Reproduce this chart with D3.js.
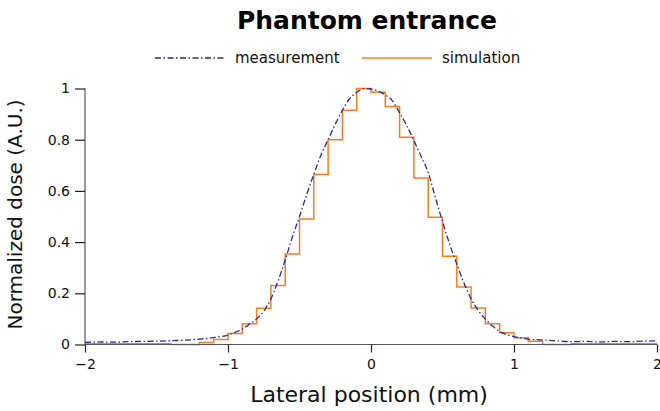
<!DOCTYPE html>
<html>
<head>
<meta charset="utf-8">
<script src="https://cdn.jsdelivr.net/npm/d3@7"></script>
<style>
  body { margin: 0; background: #fff; }
  svg { display: block; font-family: "DejaVu Sans", sans-serif; }
</style>
</head>
<body>
<svg id="chart" width="660" height="411"></svg>
<script>
// Simulated dose: 0.1 mm bins, left edges from -2.0 to 1.9
const simEdges = [-2.0, -1.9, -1.8, -1.7, -1.6, -1.5, -1.4, -1.3, -1.2, -1.1,
                  -1.0, -0.9, -0.8, -0.7, -0.6, -0.5, -0.4, -0.3, -0.2, -0.1,
                   0.0,  0.1,  0.2,  0.3,  0.4,  0.5,  0.6,  0.7,  0.8,  0.9,
                   1.0,  1.1,  1.2,  1.3,  1.4,  1.5,  1.6,  1.7,  1.8,  1.9];
const simDose = [0.003, 0.003, 0.003, 0.003, 0.003, 0.003, 0.0, 0.0, 0.008, 0.02,
                 0.043, 0.081, 0.142, 0.23, 0.354, 0.49, 0.664, 0.80, 0.915, 1.0,
                 0.985, 0.93, 0.81, 0.65, 0.497, 0.345, 0.225, 0.143, 0.081, 0.046,
                 0.026, 0.013, 0.0, 0.0, 0.003, 0.003, 0.003, 0.003, 0.003, 0.003];

// Measured lateral profile
const measPos = [-2.0, -1.9, -1.8, -1.7, -1.6, -1.5, -1.4, -1.3, -1.2, -1.1,
                 -1.05, -1.0, -0.95, -0.9, -0.85, -0.8, -0.75, -0.7, -0.65, -0.6,
                 -0.55, -0.5, -0.45, -0.4, -0.35, -0.3, -0.25, -0.2, -0.15, -0.1,
                 -0.05, 0.0, 0.05, 0.1, 0.15, 0.2, 0.25, 0.3, 0.35, 0.4,
                  0.45, 0.5, 0.55, 0.6, 0.65, 0.7, 0.75, 0.8, 0.85, 0.9,
                  0.95, 1.0, 1.05, 1.1, 1.2, 1.3, 1.4, 1.5, 1.6, 1.7,
                  1.8, 1.9, 2.0];
const measDose = [0.008, 0.010, 0.009, 0.011, 0.012, 0.013, 0.015, 0.017, 0.021, 0.027,
                  0.031, 0.037, 0.047, 0.060, 0.079, 0.100, 0.130, 0.178, 0.248, 0.330,
                  0.420, 0.500, 0.585, 0.665, 0.740, 0.800, 0.860, 0.915, 0.960, 0.985,
                  1.000, 0.998, 0.990, 0.975, 0.952, 0.905, 0.855, 0.797, 0.735, 0.672,
                  0.575, 0.480, 0.392, 0.314, 0.240, 0.178, 0.133, 0.099, 0.072, 0.051,
                  0.038, 0.031, 0.025, 0.021, 0.018, 0.014, 0.011, 0.012, 0.010, 0.012,
                  0.011, 0.013, 0.014];

const xTicks = [-2, -1, 0, 1, 2];
const yTicks = [0, 0.2, 0.4, 0.6, 0.8, 1];

const titleText = "Phantom entrance";
const xLabel = "Lateral position (mm)";
const yLabel = "Normalized dose (A.U.)";
const seriesNames = ["measurement", "simulation"];

const svg = d3.select("#chart");
const plotLeft = 85, plotRight = 657, plotTop = 88.5, plotBottom = 344.5;

const x = d3.scaleLinear().domain([-2, 2]).range([plotLeft, plotRight]);
const y = d3.scaleLinear().domain([0, 1]).range([plotBottom, plotTop]);

const measColor = "#28289a";
const simColor = "#ff7a1c";
const measDash = "6,2.5,1.5,2.5";

// curves
const simPts = simEdges.map((e, i) => [e, simDose[i]]);
simPts.push([2.0, simDose[simDose.length - 1]]);
const stepLine = d3.line().x(d => x(d[0])).y(d => y(d[1])).curve(d3.curveStepAfter);
svg.append("path").attr("d", stepLine(simPts))
  .attr("fill", "none").attr("stroke", simColor).attr("stroke-width", 1.5);

const measLine = d3.line().x((d, i) => x(measPos[i])).y(d => y(d)).curve(d3.curveMonotoneX);
svg.append("path").attr("d", measLine(measDose))
  .attr("fill", "none").attr("stroke", measColor).attr("stroke-width", 1.3)
  .attr("stroke-dasharray", measDash);

// axes
const xAxis = d3.axisBottom(x).tickValues(xTicks).tickSize(8).tickPadding(5)
  .tickFormat(d3.format("d"));
const gx = svg.append("g").attr("transform", `translate(0,${plotBottom})`).call(xAxis);
const yAxis = d3.axisLeft(y).tickValues(yTicks).tickSize(10).tickPadding(5)
  .tickFormat(d => d === 0 || d === 1 ? d3.format("d")(d) : d3.format(".1f")(d));
const gy = svg.append("g").attr("transform", `translate(${plotLeft},0)`).call(yAxis);
[gx, gy].forEach(g => {
  g.select(".domain").attr("stroke", "#555").attr("stroke-width", 1.2);
  g.selectAll(".tick line").attr("stroke", "#222").attr("stroke-width", 1.2);
  g.selectAll(".tick text").attr("font-size", 14).attr("fill", "#111")
    .attr("font-family", "'DejaVu Sans', sans-serif");
});
gx.select(".domain").attr("d", `M${plotLeft},0H${plotRight}`);
gy.select(".domain").attr("d", `M0,${plotBottom}V${plotTop}`);
gx.selectAll(".tick text").attr("dy", "0.85em");

// title
svg.append("text").attr("x", 367).attr("y", 29)
  .attr("text-anchor", "middle").attr("font-size", 25).attr("font-weight", "bold")
  .attr("fill", "#000").text(titleText);

// axis labels
svg.append("text").attr("x", 369).attr("y", 402)
  .attr("text-anchor", "middle").attr("font-size", 22).attr("fill", "#111").text(xLabel);
svg.append("text").attr("transform", `translate(22,${(plotTop + plotBottom) / 2 - 2}) rotate(-90)`)
  .attr("text-anchor", "middle").attr("font-size", 20).attr("fill", "#111").text(yLabel);

// legend
const legend = svg.append("g");
const legendItems = [
  { name: seriesNames[0], x0: 155, color: measColor, dash: measDash, w: 1.3 },
  { name: seriesNames[1], x0: 362, color: simColor, dash: null, w: 1.5 }
];
legendItems.forEach(it => {
  legend.append("line").attr("x1", it.x0).attr("x2", it.x0 + 70)
    .attr("y1", 58).attr("y2", 58)
    .attr("stroke", it.color).attr("stroke-width", it.w)
    .attr("stroke-dasharray", it.dash);
  legend.append("text").attr("x", it.x0 + 80).attr("y", 63)
    .attr("font-size", 15).attr("fill", "#111").text(it.name);
});
</script>
</body>
</html>
